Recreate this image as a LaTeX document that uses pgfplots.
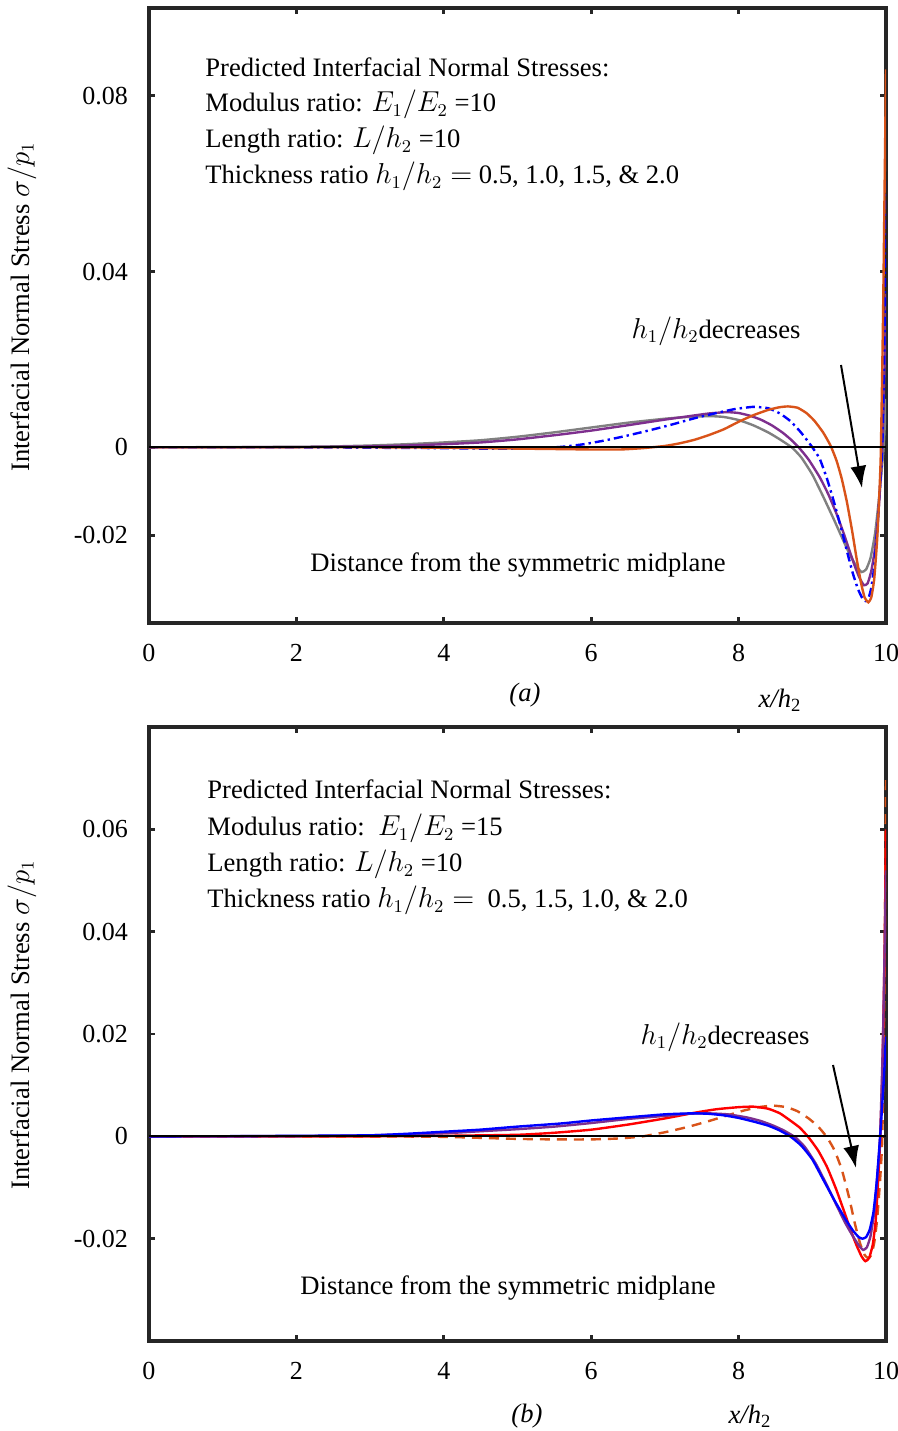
\documentclass[border=0pt]{standalone}
\usepackage{fontspec}
\setmainfont{Liberation Serif}
\usepackage{pgfplots}
\pgfplotsset{compat=1.18}
\usetikzlibrary{arrows.meta}
\definecolor{framec}{HTML}{262626}
\definecolor{morange}{HTML}{D95319}
\definecolor{mpurple}{HTML}{7E2F8E}
\definecolor{mgray}{HTML}{808080}
\newcommand\af{\fontsize{13.3}{16}\selectfont}
\newcommand\tf{\fontsize{13}{15}\selectfont}
\pgfplotsset{panel/.style={
  scale only axis, width=368.5pt, anchor=south west,
  xmin=0, xmax=10, xtick={0,2,4,6,8,10}, xticklabels={0,2,4,6,8,10},
  scaled x ticks=false, scaled y ticks=false,
  axis line style={framec, line width=1.6pt, line cap=rect},
  major tick style={framec, line width=1.4pt}, major tick length=3pt,
  tick align=inside,
  xticklabel style={font=\tf, yshift=-7pt},
  yticklabel style={font=\tf, xshift=-7pt},
  every axis plot/.append style={line width=1.2pt, smooth, tension=0.3, no marks},
}}
\begin{document}
\begin{tikzpicture}
\useasboundingbox (0,0) rectangle (449pt,715.5pt);
% ---------------- panel (a)
\begin{axis}[panel, at={(74.5pt,404pt)}, height=307.5pt,
  ymin=-0.04, ymax=0.1, ytick={-0.02,0,0.04,0.08}, yticklabels={-0.02,0,0.04,0.08}]
\addplot[mgray] coordinates {(0,0)(1,0.00003)(2,0.0001)(2.5,0.0002)(3,0.0004)(3.5,0.0007)(4,0.0011)(4.5,0.0016)(5,0.0024)(5.5,0.0034)(6,0.0045)(6.5,0.0056)(7,0.0065)(7.3,0.0069)(7.6,0.0071)(7.8,0.0069)(8.0,0.0062)(8.2,0.005)(8.4,0.0034)(8.55,0.0019)(8.72,0)(8.85,-0.0023)(9.0,-0.0062)(9.15,-0.0113)(9.3,-0.0167)(9.42,-0.0212)(9.52,-0.0248)(9.6,-0.0271)(9.67,-0.0284)(9.73,-0.0278)(9.79,-0.0252)(9.85,-0.0198)(9.9,-0.0125)(9.94,-0.0055)(9.97,0.0005)(10,0.011)};
\addplot[mpurple] coordinates {(0,0)(1,0.00001)(2,0.00005)(3,0.0002)(3.5,0.0004)(4,0.0007)(4.5,0.0011)(5,0.0018)(5.58,0.0029)(6,0.0038)(6.49,0.005)(7,0.0063)(7.38,0.0072)(7.6,0.0077)(7.84,0.008)(8.0,0.0078)(8.15,0.0072)(8.3,0.0063)(8.45,0.005)(8.6,0.0033)(8.72,0.0016)(8.83,-0.0003)(8.95,-0.0028)(9.1,-0.0068)(9.22,-0.0108)(9.33,-0.0152)(9.43,-0.0198)(9.51,-0.0238)(9.58,-0.0272)(9.64,-0.0297)(9.7,-0.0314)(9.75,-0.031)(9.8,-0.0282)(9.85,-0.0232)(9.89,-0.0165)(9.92,-0.009)(9.95,0)(9.98,0.018)(10,0.035)};
\addplot[blue, dash pattern=on 4.5pt off 2pt on 1.2pt off 2pt] coordinates {(0,0)(2,0)(3,-0.0001)(4,-0.0002)(4.5,-0.0003)(5,-0.0003)(5.3,-0.0002)(5.6,0.0001)(5.9,0.0007)(6.2,0.0016)(6.5,0.0027)(6.8,0.0039)(7.1,0.0052)(7.4,0.0066)(7.7,0.0078)(7.95,0.0087)(8.2,0.0092)(8.4,0.0089)(8.56,0.0077)(8.7,0.006)(8.83,0.0037)(8.92,0.0018)(9.0,0)(9.1,-0.0026)(9.2,-0.0072)(9.3,-0.0128)(9.4,-0.019)(9.48,-0.0243)(9.55,-0.0287)(9.62,-0.0323)(9.68,-0.0344)(9.72,-0.035)(9.76,-0.0345)(9.8,-0.032)(9.84,-0.0272)(9.88,-0.019)(9.92,-0.0085)(9.95,0)(9.98,0.025)(10,0.061)};
\addplot[morange] coordinates {(0,0)(3,0)(4,-0.0001)(4.5,-0.0002)(5,-0.0003)(5.5,-0.0004)(6,-0.0005)(6.4,-0.0005)(6.7,-0.0002)(7.0,0.0003)(7.2,0.0009)(7.4,0.0017)(7.6,0.0028)(7.8,0.0041)(8.0,0.0058)(8.2,0.0073)(8.4,0.0085)(8.55,0.0091)(8.67,0.0093)(8.8,0.009)(8.92,0.0078)(9.03,0.006)(9.15,0.0033)(9.25,0.0003)(9.33,-0.0031)(9.4,-0.0072)(9.47,-0.0125)(9.54,-0.019)(9.6,-0.0252)(9.66,-0.0308)(9.71,-0.0342)(9.76,-0.0353)(9.8,-0.0342)(9.84,-0.03)(9.88,-0.021)(9.91,-0.0105)(9.93,-0.001)(9.96,0.03)(10,0.086)};
\addplot[black, line width=1pt, sharp plot] coordinates {(0,0)(10,0)};
\end{axis}
% ---------------- panel (b)
\begin{axis}[panel, at={(74.5pt,45pt)}, height=307pt,
  ymin=-0.04, ymax=0.08, ytick={-0.02,0,0.02,0.04,0.06}, yticklabels={-0.02,0,0.02,0.04,0.06}]
\addplot[morange, dash pattern=on 5pt off 3.5pt] coordinates {(0,0)(3,0)(4,-0.0001)(4.5,-0.0003)(5,-0.0005)(5.5,-0.0006)(6,-0.0006)(6.4,-0.0004)(6.7,0)(7.0,0.0008)(7.3,0.0018)(7.6,0.003)(7.85,0.0041)(8.06,0.005)(8.27,0.0057)(8.47,0.006)(8.65,0.0057)(8.8,0.0049)(8.95,0.0035)(9.08,0.0019)(9.2,-0.0002)(9.3,-0.0027)(9.4,-0.0065)(9.5,-0.012)(9.58,-0.0172)(9.65,-0.021)(9.71,-0.0232)(9.76,-0.0238)(9.8,-0.0232)(9.84,-0.0208)(9.88,-0.0162)(9.92,-0.0085)(9.95,0)(9.98,0.03)(10,0.07)};
\addplot[red] coordinates {(0,0)(3,0)(4,0.0001)(5,0.0003)(5.5,0.0007)(6,0.0013)(6.5,0.0023)(7.0,0.0035)(7.4,0.0046)(7.7,0.0053)(8.0,0.0057)(8.2,0.0058)(8.4,0.0054)(8.56,0.0045)(8.7,0.0031)(8.83,0.0017)(8.95,-0.0002)(9.08,-0.0028)(9.2,-0.006)(9.32,-0.0102)(9.42,-0.0142)(9.52,-0.0183)(9.6,-0.0213)(9.67,-0.0235)(9.72,-0.0244)(9.77,-0.0238)(9.82,-0.0212)(9.86,-0.0165)(9.89,-0.0095)(9.92,-0.001)(9.95,0.012)(9.98,0.035)(10,0.06)};
\addplot[mpurple] coordinates {(0,0)(2,0.00005)(3,0.0002)(4,0.0006)(4.5,0.001)(5,0.0014)(5.5,0.0019)(6,0.0026)(6.5,0.0034)(7,0.004)(7.3,0.0044)(7.57,0.0045)(7.85,0.0043)(8.11,0.0037)(8.3,0.003)(8.47,0.0021)(8.62,0.0011)(8.77,-0.0002)(8.9,-0.0021)(9.05,-0.0054)(9.2,-0.0096)(9.33,-0.0135)(9.45,-0.017)(9.55,-0.0195)(9.63,-0.0213)(9.69,-0.0222)(9.74,-0.0217)(9.79,-0.0195)(9.84,-0.0148)(9.88,-0.0082)(9.92,0)(9.96,0.02)(10,0.052)};
\addplot[blue] coordinates {(0,0)(1,0.00002)(2,0.0001)(3,0.0002)(3.5,0.0005)(4,0.0009)(4.49,0.0013)(5,0.0019)(5.58,0.0025)(6,0.0031)(6.49,0.0037)(7,0.0043)(7.38,0.0045)(7.6,0.0044)(7.8,0.0041)(8.0,0.0036)(8.2,0.0029)(8.4,0.0021)(8.55,0.0012)(8.7,0)(8.85,-0.0018)(9.0,-0.0045)(9.15,-0.0085)(9.3,-0.0125)(9.45,-0.0162)(9.55,-0.0184)(9.63,-0.0197)(9.68,-0.02)(9.73,-0.0197)(9.78,-0.0182)(9.83,-0.0148)(9.87,-0.0095)(9.9,-0.004)(9.93,0.002)(9.97,0.011)(10,0.0195)};
\addplot[black, line width=1pt, sharp plot] coordinates {(0,0)(10,0)};
\end{axis}
% ---------------- annotations (a)
\node[anchor=base west, inner sep=0, font=\af] at (102.5pt,677pt) {Predicted Interfacial Normal Stresses:};
\node[anchor=base west, inner sep=0, font=\af] at (102.5pt,659.5pt) {Modulus ratio: $E_1/E_2$ =10};
\node[anchor=base west, inner sep=0, font=\af] at (102.5pt,641.5pt) {Length ratio: $L/h_2$ =10};
\node[anchor=base west, inner sep=0, font=\af] at (102.5pt,623.5pt) {Thickness ratio $h_1/h_2 =$ 0.5, 1.0, 1.5, \& 2.0};
\node[font=\af] at (259pt,433pt) {Distance from the symmetric midplane};
\node[font=\af] at (358pt,550pt) {$h_1/h_2$decreases};
\draw[-{Latex[length=11pt,width=8pt]}, line width=1pt] (420.5pt,533pt) -- (431pt,471.5pt);
\node[font=\af] at (262.5pt,368pt) {\textit{(a)}};
\node[font=\af] at (390pt,365.5pt) {\textit{x/h}\textsubscript{2}};
\node[font=\af, rotate=90] at (11pt,562pt) {Interfacial Normal Stress $\sigma/p_1$};
% ---------------- annotations (b)
\node[anchor=base west, inner sep=0, font=\af] at (103.5pt,316pt) {Predicted Interfacial Normal Stresses:};
\node[anchor=base west, inner sep=0, font=\af] at (103.5pt,297.5pt) {Modulus ratio:\ \ $E_1/E_2$ =15};
\node[anchor=base west, inner sep=0, font=\af] at (103.5pt,279.5pt) {Length ratio: $L/h_2$ =10};
\node[anchor=base west, inner sep=0, font=\af] at (103.5pt,261.5pt) {Thickness ratio $h_1/h_2 =$\ \ 0.5, 1.5, 1.0, \& 2.0};
\node[font=\af] at (254pt,71.5pt) {Distance from the symmetric midplane};
\node[font=\af] at (362.5pt,197pt) {$h_1/h_2$decreases};
\draw[-{Latex[length=11pt,width=8pt]}, line width=1pt] (416.5pt,183pt) -- (428pt,131.5pt);
\node[font=\af] at (263.5pt,7.5pt) {\textit{(b)}};
\node[font=\af] at (375pt,7.5pt) {\textit{x/h}\textsubscript{2}};
\node[font=\af, rotate=90] at (11pt,203pt) {Interfacial Normal Stress $\sigma/p_1$};
\end{tikzpicture}
\end{document}
